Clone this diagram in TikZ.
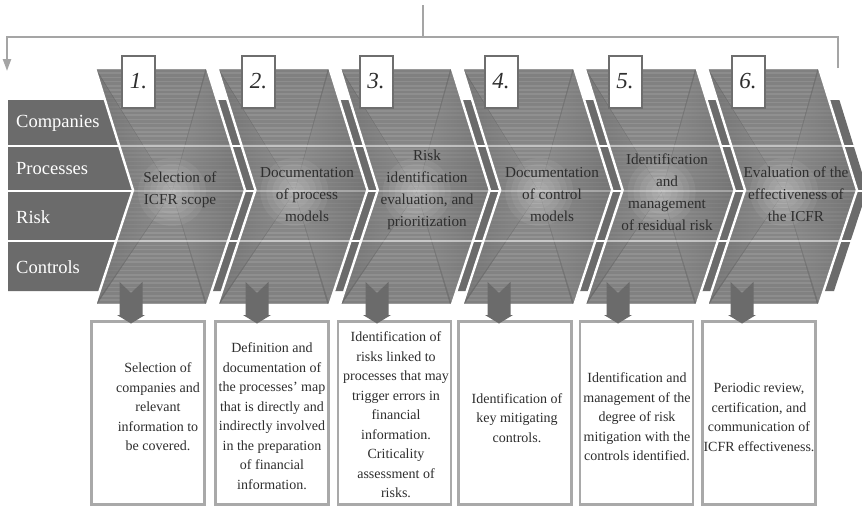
\documentclass[tikz,border=0pt]{standalone}
\usepackage{fontspec}
\setmainfont{Liberation Serif}
\usetikzlibrary{arrows.meta}

\definecolor{bandgray}{HTML}{6B6B6B}
\definecolor{chevbase}{HTML}{A2A2A2}
\definecolor{chevstripe}{HTML}{BCBCBC}
\definecolor{wedgedark}{HTML}{989898}
\definecolor{wedgelight}{HTML}{C6C6C6}
\definecolor{linkgray}{HTML}{A5A5A5}
\definecolor{boxedge}{HTML}{A9A9A9}
\definecolor{numedge}{HTML}{6E6E6E}
\definecolor{inkdark}{HTML}{2E2E2E}

\tikzset{
  rowlabel/.style={anchor=west, text=white, font=\fontsize{18.5}{20}\selectfont, inner sep=0pt},
  chevtext/.style={align=center, text=inkdark, font=\fontsize{15.2}{22}\selectfont, inner sep=0pt},
  numbox/.style={draw=numedge, line width=2pt, fill=white, minimum width=33pt, minimum height=52pt,
                 inner sep=0pt, font=\fontsize{23}{24}\selectfont\itshape, text=inkdark},
  stepbox/.style={draw=boxedge, line width=2.2pt, fill=white, minimum width=113pt, minimum height=183pt, inner sep=0pt},
  boxtext/.style={align=center, text=inkdark, font=\fontsize{14}{19.5}\selectfont, inner sep=0pt},
  link/.style={draw=linkgray, line width=2.2pt},
  downarrow/.style={fill=bandgray},
}

\begin{document}
\begin{tikzpicture}[x=1pt, y=-1pt]
\useasboundingbox (0,0) rectangle (862,506);
\fill[white] (0,0) rectangle (862,506);

% feedback loop above the process chain
\coordinate (src) at (423,5);
\coordinate (jn) at (423,37);
\coordinate (lft) at (7,37);
\coordinate (rgt) at (838,37);
\coordinate (lend) at (7,71);
\coordinate (rend) at (838,68);
\draw[link] (src) -- (jn);
\draw[link, -{Triangle[length=12pt,width=8pt]}] (rend) -- (rgt) -- (lft) -- (lend);

% dark row bands behind the chevrons
\fill[bandgray] (8,100) -- (839.4,100) -- (867.4,190) -- (834,291) -- (8,291) -- cycle;
\foreach \yy in {146,191,241}
  \draw[white, line width=2.6pt] (0,\yy) -- (870,\yy);

\node[rowlabel] (rc) at (16,123) {Companies};
\node[rowlabel] (rp) at (16,169) {Processes};
\node[rowlabel] (rr) at (16,217) {Risk};
\node[rowlabel] (rk) at (16,267) {Controls};

% the six chevrons
\foreach \k in {0,...,5} {
  \pgfmathsetmacro\L{95+122.4*\k}
  \pgfmathsetmacro\R{\L+112}
  \pgfmathsetmacro\Ln{\L+38}
  \pgfmathsetmacro\Rt{\R+38}
  \pgfmathsetmacro\cx{\L+77}
  \begin{scope}
    \clip (\L,68) -- (\R,68) -- (\Rt,190) -- (\R,305) -- (\L,305) -- (\Ln,190) -- cycle;
    \fill[chevbase] (\L-2,60) rectangle (\Rt+2,310);
    \foreach \yy in {69,73.2,...,306}
      \draw[chevstripe, line width=1.7pt] (\L-2,\yy) -- (\Rt+2,\yy);
    \fill[left color=wedgedark, right color=wedgelight, opacity=0.5]
      (\L-2,64) -- (\cx,192) -- (\L-2,310) -- (\Ln-40,190) -- cycle;
    \fill[left color=wedgelight, right color=wedgedark, opacity=0.5]
      (\R,64) -- (\cx,192) -- (\R,310) -- (\Rt+2,190) -- cycle;
    \fill[top color=chevbase, bottom color=wedgelight, opacity=0.3]
      (\L,68) -- (\R,68) -- (\cx,192) -- cycle;
    \fill[top color=wedgelight, bottom color=chevbase, opacity=0.3]
      (\L,305) -- (\R,305) -- (\cx,192) -- cycle;
    \foreach \r in {34,28,...,4}
      \fill[white, opacity=0.06] (\cx,192) circle[radius=\r pt];
    \draw[white, opacity=0.5, line width=2pt] (\L-2,146) -- (\Rt+2,146);
    \draw[white, opacity=0.3, line width=1.6pt] (\L-2,191) -- (\Rt+2,191);
    \draw[white, opacity=0.5, line width=2pt] (\L-2,241) -- (\Rt+2,241);
  \end{scope}
  \draw[white, line width=2.4pt, line join=miter]
    (\L,68) -- (\R,68) -- (\Rt,190) -- (\R,305) -- (\L,305) -- (\Ln,190) -- cycle;
}

% step titles
\node[chevtext] (c1) at (180,190) {Selection of\\ICFR scope};
\node[chevtext] (c2) at (307,195) {Documentation\\of process\\models};
\node[chevtext] (c3) at (427,190) {Risk\\identification\\evaluation, and\\prioritization};
\node[chevtext] (c4) at (552,195) {Documentation\\of control\\models};
\node[chevtext] (c5) at (667,192) {Identification\\and\\management\\of residual risk};
\node[chevtext] (c6) at (796,194) {Evaluation of the\\effectiveness of\\the ICFR};

% step numbers
\node[numbox] (n1) at (138.5,81.5) {1.};
\node[numbox] (n2) at (258.5,81.5) {2.};
\node[numbox] (n3) at (376,81.5) {3.};
\node[numbox] (n4) at (501,81.5) {4.};
\node[numbox] (n5) at (625,81.5) {5.};
\node[numbox] (n6) at (748,81.5) {6.};

% detail boxes
\node[stepbox] (b1) at (148,413) {};
\node[stepbox] (b2) at (272,413) {};
\node[stepbox] (b3) at (394.5,413) {};
\node[stepbox] (b4) at (515,413) {};
\node[stepbox] (b5) at (636.5,413) {};
\node[stepbox] (b6) at (759,413) {};

% notched block arrows from each step down to its box
\foreach \ax in {131,257,377,499,618,742}
  \fill[downarrow] (\ax-11.5,282) -- (\ax,293) -- (\ax+11.5,282) -- (\ax+11.5,315)
    -- (\ax+14,315) -- (\ax,323.5) -- (\ax-14,315) -- (\ax-11.5,315) -- cycle;

\node[boxtext] (t1) at (158,407) {Selection of\\companies and\\relevant\\information to\\be covered.};
\node[boxtext] (t2) at (272,416) {Definition and\\documentation of\\the processes' map\\that is directly and\\indirectly involved\\in the preparation\\of financial\\information.};
\node[boxtext] (t3) at (396,415) {Identification of\\risks linked to\\processes that may\\trigger errors in\\financial\\information.\\Criticality\\assessment of\\risks.};
\node[boxtext] (t4) at (517,418) {Identification of\\key mitigating\\controls.};
\node[boxtext] (t5) at (637,417) {Identification and\\management of the\\degree of risk\\mitigation with the\\controls identified.};
\node[boxtext] (t6) at (759,417) {Periodic review,\\certification, and\\communication of\\ICFR effectiveness.};
\end{tikzpicture}
\end{document}
